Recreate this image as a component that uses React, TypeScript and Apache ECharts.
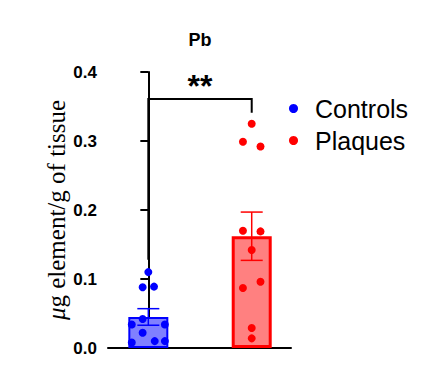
import React, { useEffect, useRef } from "react";
import * as echarts from "echarts";

const categories = ["Controls", "Plaques"];
const categoryPos = [0, 1];
const barMeans = [0.045, 0.162];
const barSem = [0.012, 0.035];
const controlsValues = [0.110, 0.088, 0.089, 0.042, 0.034, 0.034, 0.022, 0.008, 0.010, 0.010];
const controlsJitter = [0, -0.055, 0.055, -0.055, -0.16, 0.16, -0.055, -0.16, 0.062, 0.16];
const plaquesValues = [0.325, 0.299, 0.292, 0.170, 0.169, 0.142, 0.087, 0.096, 0.029, 0.014];
const plaquesJitter = [0, -0.085, 0.085, -0.085, 0.085, 0, -0.085, 0.085, 0, 0];
const bracketLevel = 0.361;
const bracketLegEnds = [0.128, 0.341];
const sigLabel = "**";
const yTicks = [0, 0.1, 0.2, 0.3, 0.4];
const titleText = "Pb";
const yAxisTitle = "{i|μ}g element/g of tissue";

const lineColors = ["#0000ff", "#ff0000"];
const fillColors = ["#8080ff", "#ff8080"];
const borderWidths = [2, 3];

export default function App() {
  const ref = useRef<HTMLDivElement>(null);
  useEffect(() => {
    if (!ref.current) return;
    const chart = echarts.init(ref.current, null, { renderer: "svg" });
    const sans = "Liberation Sans, Arial, sans-serif";
    const option: any = {
      animation: false,
      backgroundColor: "#ffffff",
      grid: { left: 108, right: 149, top: 72, bottom: 30 },
      xAxis: {
        type: "value",
        min: -0.39,
        max: 1.38,
        axisLine: { show: true, lineStyle: { color: "#000", width: 2 } },
        axisTick: { show: false },
        axisLabel: { show: false },
        splitLine: { show: false },
      },
      yAxis: {
        type: "value",
        min: yTicks[0],
        max: yTicks[yTicks.length - 1],
        interval: 0.1,
        axisLine: { show: true, lineStyle: { color: "#000", width: 2 } },
        axisTick: { show: true, length: 8, lineStyle: { color: "#000", width: 2 } },
        axisLabel: {
          margin: 11,
          color: "#000",
          fontWeight: "bold",
          fontSize: 17,
          fontFamily: sans,
          formatter: (v: number) => v.toFixed(1),
        },
        splitLine: { show: false },
      },
      legend: {
        orient: "vertical",
        left: 284,
        top: 91,
        itemWidth: 9,
        itemHeight: 9,
        itemGap: 7,
        selectedMode: false,
        data: categories,
        icon: "circle",
        textStyle: { fontSize: 25, fontFamily: sans, color: "#000", padding: [0, 0, 0, 12] },
      },
      graphic: [
        {
          type: "text",
          x: 200,
          y: 40,
          style: {
            text: titleText,
            font: `bold 18px ${sans}`,
            fill: "#000",
            textAlign: "center",
            textVerticalAlign: "middle",
          },
        },
        {
          type: "text",
          x: 56,
          y: 210,
          rotation: Math.PI / 2,
          style: {
            text: yAxisTitle,
            fontFamily: "Liberation Serif, Times New Roman, serif",
            fontSize: 25,
            fill: "#000",
            textAlign: "center",
            textVerticalAlign: "middle",
            rich: {
              i: {
                fontStyle: "italic",
                fontFamily: "Liberation Serif, Times New Roman, serif",
                fontSize: 25,
                fill: "#000",
              },
            },
          },
        },
      ],
      series: [
        {
          type: "bar",
          barWidth: 40,
          z: 1,
          data: categoryPos.map((x, i) => ({
            value: [x, barMeans[i]],
            itemStyle: {
              color: fillColors[i],
              borderColor: lineColors[i],
              borderWidth: borderWidths[i],
            },
          })),
        },
        {
          type: "custom",
          z: 2,
          data: categoryPos.map((x, i) => [x, barMeans[i], barSem[i], i]),
          renderItem: (params: any, api: any) => {
            const x = api.value(0);
            const m = api.value(1);
            const e = api.value(2);
            const idx = api.value(3);
            const top = api.coord([x, m + e]);
            const bot = api.coord([x, m - e]);
            const half = 11;
            const style = { stroke: lineColors[idx], lineWidth: 1.5 };
            return {
              type: "group",
              children: [
                { type: "line", shape: { x1: top[0], y1: top[1], x2: bot[0], y2: bot[1] }, style },
                { type: "line", shape: { x1: top[0] - half, y1: top[1], x2: top[0] + half, y2: top[1] }, style },
                { type: "line", shape: { x1: bot[0] - half, y1: bot[1], x2: bot[0] + half, y2: bot[1] }, style },
              ],
            };
          },
        },
        {
          name: categories[0],
          type: "scatter",
          z: 3,
          symbolSize: 8,
          itemStyle: { color: lineColors[0], opacity: 1 },
          data: controlsValues.map((v, i) => [categoryPos[0] + controlsJitter[i], v]),
        },
        {
          name: categories[1],
          type: "scatter",
          z: 3,
          symbolSize: 8,
          itemStyle: { color: lineColors[1], opacity: 1 },
          data: plaquesValues.map((v, i) => [categoryPos[1] + plaquesJitter[i], v]),
        },
        {
          type: "custom",
          z: 4,
          data: [[categoryPos[0], categoryPos[1], bracketLevel, bracketLegEnds[0], bracketLegEnds[1]]],
          renderItem: (params: any, api: any) => {
            const x0 = api.value(0);
            const x1 = api.value(1);
            const yt = api.value(2);
            const pl = api.coord([x0, api.value(3)]);
            const tl = api.coord([x0, yt]);
            const tr = api.coord([x1, yt]);
            const pr = api.coord([x1, api.value(4)]);
            return {
              type: "group",
              children: [
                {
                  type: "polyline",
                  shape: { points: [pl, tl, tr, pr] },
                  style: { stroke: "#000", lineWidth: 2, fill: "none" },
                },
                {
                  type: "text",
                  x: (tl[0] + tr[0]) / 2,
                  y: tl[1] + 3,
                  style: {
                    text: sigLabel,
                    font: `bold 32px ${sans}`,
                    fill: "#000",
                    textAlign: "center",
                    textVerticalAlign: "bottom",
                  },
                },
              ],
            };
          },
        },
      ],
    };
    chart.setOption(option);
    return () => chart.dispose();
  }, []);
  return (
    <div
      ref={ref}
      style={{ position: "fixed", left: 0, top: 0, width: 440, height: 378, background: "#fff" }}
    />
  );
}
